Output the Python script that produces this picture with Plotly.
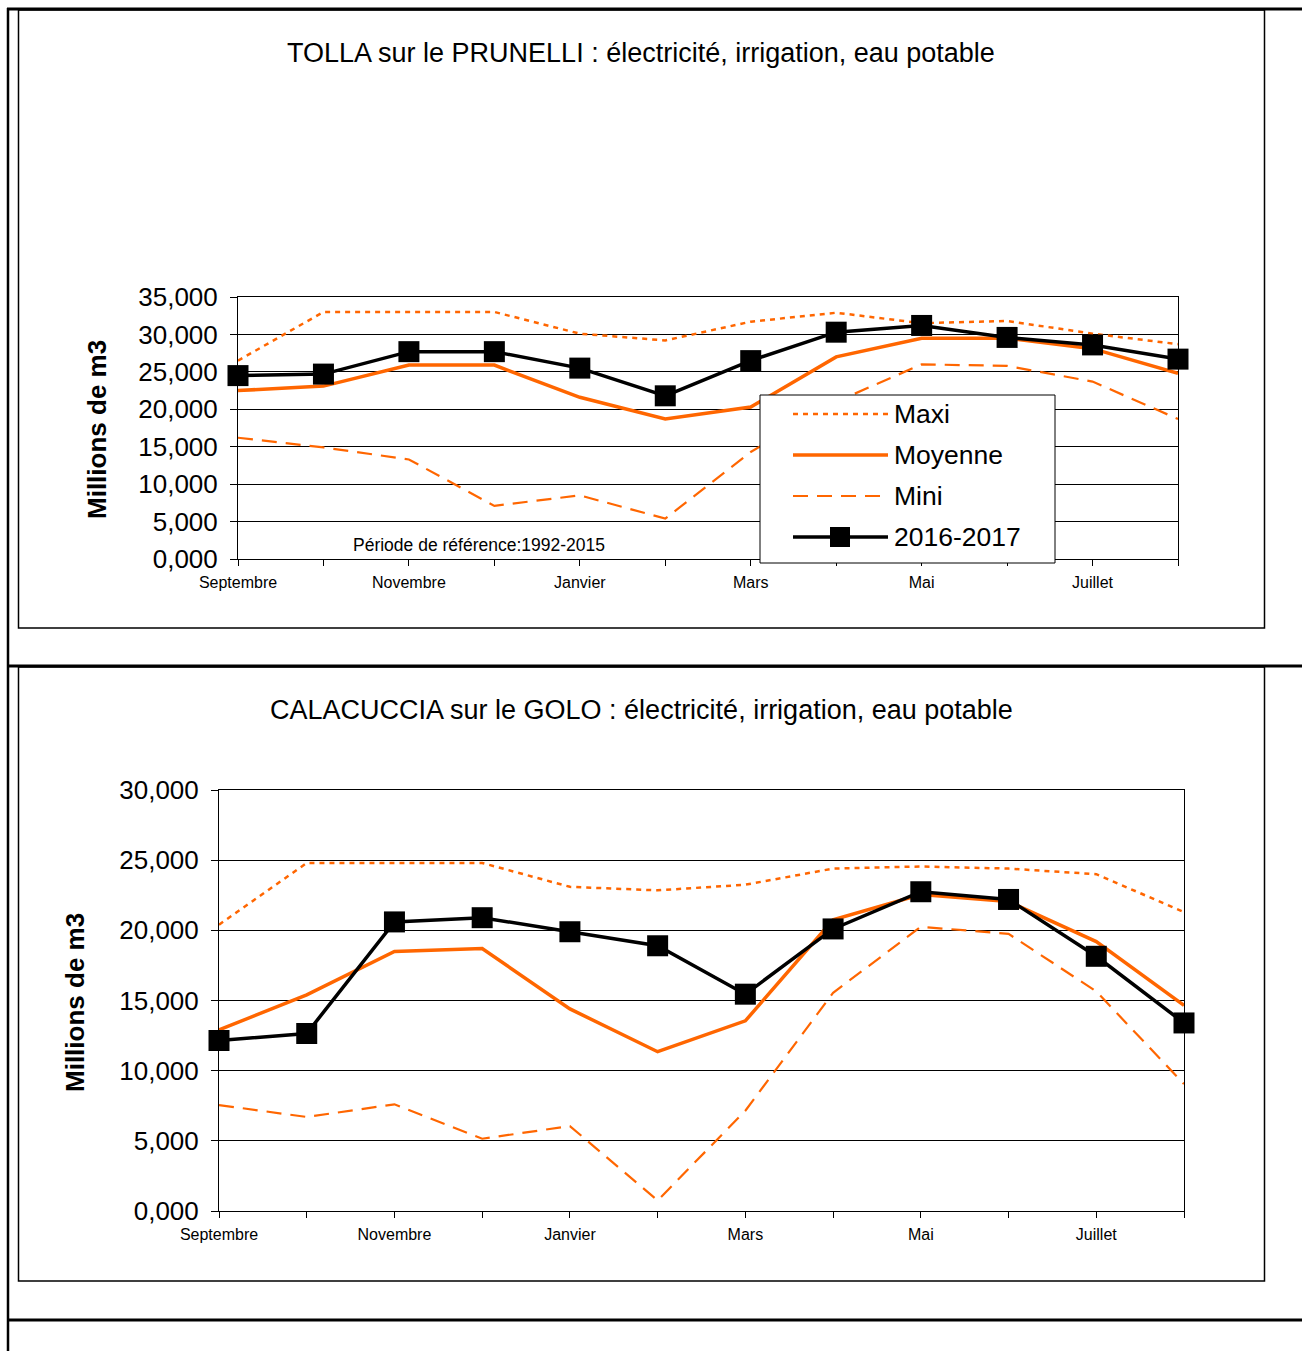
import plotly.graph_objects as go

# Mois de l'année hydrologique (septembre -> août)
months = ["Septembre", "Octobre", "Novembre", "Décembre", "Janvier", "Février",
          "Mars", "Avril", "Mai", "Juin", "Juillet", "Août"]
month_labels = ["Septembre", "", "Novembre", "", "Janvier", "",
                "Mars", "", "Mai", "", "Juillet", ""]

# TOLLA sur le PRUNELLI (millions de m3)
tolla_maxi = [26.5, 33.0, 33.0, 33.0, 30.1, 29.2, 31.7, 32.9, 31.5, 31.8, 30.1, 28.7]
tolla_moyenne = [22.5, 23.1, 25.9, 25.9, 21.6, 18.7, 20.3, 27.0, 29.5, 29.5, 28.1, 24.8]
tolla_mini = [16.2, 14.9, 13.3, 7.1, 8.5, 5.4, 14.3, 21.0, 26.0, 25.8, 23.7, 18.7]
tolla_2016_2017 = [24.5, 24.7, 27.7, 27.7, 25.5, 21.8, 26.5, 30.3, 31.2, 29.6, 28.6, 26.7]
tolla_yticks = [0, 5, 10, 15, 20, 25, 30, 35]

# CALACUCCIA sur le GOLO (millions de m3)
cala_maxi = [20.4, 24.8, 24.8, 24.8, 23.1, 22.85, 23.25, 24.4, 24.55, 24.4, 24.0, 21.3]
cala_moyenne = [12.9, 15.4, 18.5, 18.7, 14.4, 11.35, 13.55, 20.75, 22.55, 22.05, 19.2, 14.65]
cala_mini = [7.55, 6.7, 7.6, 5.15, 6.05, 0.75, 7.15, 15.55, 20.25, 19.75, 15.65, 9.05]
cala_2016_2017 = [12.15, 12.65, 20.6, 20.9, 19.9, 18.9, 15.45, 20.1, 22.75, 22.2, 18.15, 13.4]
cala_yticks = [0, 5, 10, 15, 20, 25, 30]

W, H = 1302, 1351
ORANGE = "#FF6600"
FONT = "Arial, Liberation Sans, sans-serif"


def px(x):
    return x / W


def py(y):
    return 1 - y / H


def fmt(v):
    return f"{v:.3f}".replace(".", ",")


fig = go.Figure()

series = [
    ("Maxi", dict(color=ORANGE, width=2.5, dash="5px,5px"), None),
    ("Moyenne", dict(color=ORANGE, width=3.5), None),
    ("Mini", dict(color=ORANGE, width=2.2, dash="15px,9px"), None),
    ("2016-2017", dict(color="black", width=3.5), dict(symbol="square", size=21, color="black")),
]

for (xa, ya), values in [(("x", "y"), [tolla_maxi, tolla_moyenne, tolla_mini, tolla_2016_2017]),
                         (("x2", "y2"), [cala_maxi, cala_moyenne, cala_mini, cala_2016_2017])]:
    for (name, line, marker), vals in zip(series, values):
        fig.add_trace(go.Scatter(
            x=months, y=vals, name=name, xaxis=xa, yaxis=ya,
            mode="lines+markers" if marker else "lines",
            line=line, marker=marker, showlegend=False, hoverinfo="skip",
            cliponaxis=False,
        ))


def xaxis_cfg(x0, x1, anchor):
    return dict(
        domain=[px(x0), px(x1)], anchor=anchor, type="category",
        categoryorder="array", categoryarray=months, range=[0, 11],
        tickmode="array", tickvals=months, ticktext=month_labels,
        ticks="outside", ticklen=6, tickcolor="black", tickwidth=1,
        ticklabelstandoff=3,
        showline=True, linecolor="black", linewidth=1, mirror=True,
        showgrid=False, zeroline=False, automargin=False,
        tickfont=dict(family=FONT, size=16, color="black"),
    )


def yaxis_cfg(y0, y1, anchor, ticks):
    return dict(
        domain=[py(y1), py(y0)], anchor=anchor, range=[0, ticks[-1]],
        tickmode="array", tickvals=ticks, ticktext=[fmt(v) for v in ticks],
        ticks="outside", ticklen=7, tickcolor="black", tickwidth=1,
        ticklabelstandoff=7, automargin=False,
        showline=True, linecolor="black", linewidth=1, mirror=True,
        showgrid=True, gridcolor="black", gridwidth=1, zeroline=False,
        tickfont=dict(family=FONT, size=26, color="black"),
    )


shapes = []
annotations = []

# Cadre du tableau
for y in (9, 666, 1320):
    shapes.append(dict(type="line", xref="paper", yref="paper",
                       x0=px(7), x1=px(W), y0=py(y), y1=py(y),
                       line=dict(color="black", width=3)))
shapes.append(dict(type="line", xref="paper", yref="paper",
                   x0=px(8), x1=px(8), y0=py(8), y1=py(H),
                   line=dict(color="black", width=2.5)))
for top, bottom in ((10, 628), (667, 1281)):
    shapes.append(dict(type="rect", xref="paper", yref="paper",
                       x0=px(18.5), x1=px(1264.5), y0=py(bottom), y1=py(top),
                       line=dict(color="black", width=1.5)))

# Titres
for text, y in (("TOLLA sur le PRUNELLI : électricité, irrigation, eau potable", 53),
                ("CALACUCCIA sur le GOLO : électricité, irrigation, eau potable", 710)):
    annotations.append(dict(text=text, xref="paper", yref="paper", x=px(641), y=py(y),
                            xanchor="center", yanchor="middle", showarrow=False,
                            font=dict(family=FONT, size=27, color="black")))

# Titres des axes verticaux
for x, y in ((97, 430), (75, 1003)):
    annotations.append(dict(text="<b>Millions de m3</b>", xref="paper", yref="paper",
                            x=px(x), y=py(y), textangle=-90, xanchor="center",
                            yanchor="middle", showarrow=False,
                            font=dict(family=FONT, size=26, color="black")))

annotations.append(dict(text="Période de référence:1992-2015", xref="paper", yref="paper",
                        x=px(479), y=py(545), xanchor="center", yanchor="middle",
                        showarrow=False, font=dict(family=FONT, size=17.5, color="black")))

# Légende
shapes.append(dict(type="rect", xref="paper", yref="paper", layer="above",
                   x0=px(760), x1=px(1055), y0=py(563), y1=py(395),
                   fillcolor="white", line=dict(color="black", width=1)))
legend_rows = [("Maxi", 414), ("Moyenne", 455), ("Mini", 496), ("2016-2017", 537)]
for (name, line, marker), (_, ly) in zip(series, legend_rows):
    shapes.append(dict(type="line", xref="paper", yref="paper", layer="above",
                       x0=px(793), x1=px(888), y0=py(ly), y1=py(ly),
                       line=dict(color=line["color"], width=line["width"],
                                 dash=line.get("dash", "solid"))))
    if marker:
        shapes.append(dict(type="rect", xref="paper", yref="paper", layer="above",
                           x0=px(830), x1=px(850), y0=py(ly + 10), y1=py(ly - 10),
                           fillcolor="black", line=dict(width=0)))
    annotations.append(dict(text=name, xref="paper", yref="paper", x=px(892), y=py(ly),
                            xanchor="left", yanchor="middle", showarrow=False,
                            font=dict(family=FONT, size=26.5, color="black")))

fig.update_layout(
    width=W, height=H, margin=dict(l=0, r=0, t=0, b=0, autoexpand=False),
    paper_bgcolor="white", plot_bgcolor="white", showlegend=False,
    xaxis=xaxis_cfg(238, 1178, "y"),
    yaxis=yaxis_cfg(297, 559, "x", tolla_yticks),
    xaxis2=xaxis_cfg(219, 1184, "y2"),
    yaxis2=yaxis_cfg(790, 1211, "x2", cala_yticks),
    shapes=shapes, annotations=annotations,
)

fig.write_html("out.html")
